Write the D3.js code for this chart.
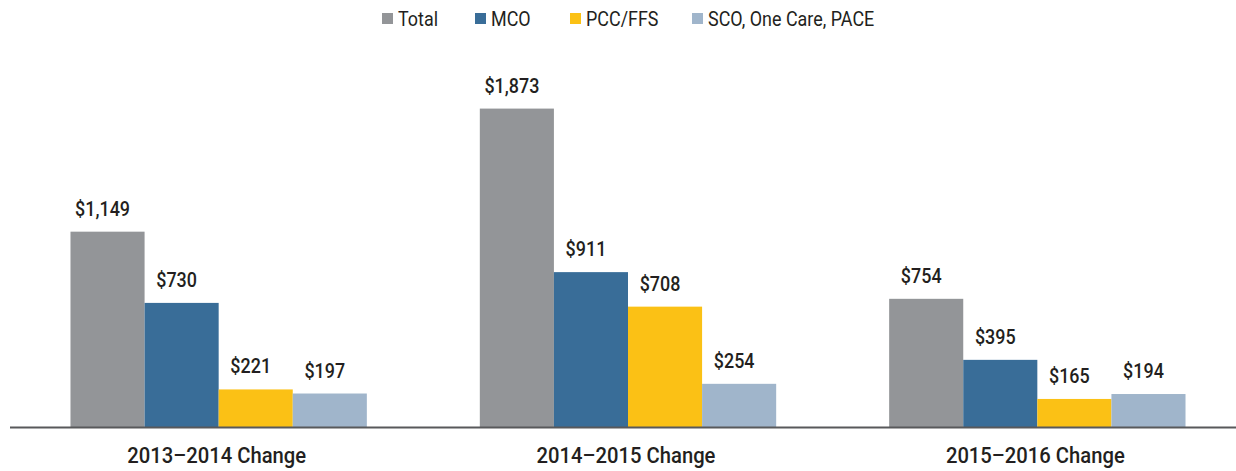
<!DOCTYPE html>
<meta charset="utf-8">
<style>
  body { margin: 0; background: #fff; }
  text { font-family: Roboto, "DejaVu Sans Condensed", Arial, sans-serif; fill: #231f20; }
  .val { font-size: 19.5px; font-weight: 500; }
  .cat { font-size: 22px; font-weight: 500; }
  .leg { font-size: 19.5px; }
</style>
<body>
<script src="https://d3js.org/d3.v7.min.js"></script>
<script>
var categories = ["2013\u20132014 Change", "2014\u20132015 Change", "2015\u20132016 Change"];
var seriesNames = ["Total", "MCO", "PCC/FFS", "SCO, One Care, PACE"];
var totalVals = [1149, 1873, 754];
var mcoVals = [730, 911, 395];
var pccVals = [221, 708, 165];
var scoVals = [197, 254, 194];
var colors = ["#939598", "#396d98", "#fbc115", "#a0b5cb"];

var series = [totalVals, mcoVals, pccVals, scoVals];
var width = 1236, height = 471;
var squeeze = 0.92; // fake a condensed face

var svg = d3.select("body").append("svg")
  .attr("width", width)
  .attr("height", height);

var x0 = d3.scaleBand()
  .domain(categories)
  .range([14, 1242])
  .paddingInner(0.276)
  .paddingOuter(0.138);

var x1 = d3.scaleBand()
  .domain(seriesNames)
  .range([0, x0.bandwidth()]);

var y = d3.scaleLinear()
  .domain([0, 2000])
  .range([427, 87]);

var rows = [];
categories.forEach(function(c, i) {
  seriesNames.forEach(function(s, j) {
    rows.push({cat: c, name: s, value: series[j][i], color: colors[j]});
  });
});

function place(px, py) {
  return "translate(" + px + "," + py + ") scale(" + squeeze + ",1)";
}

// bars
svg.selectAll(".bar")
  .data(rows)
  .enter().append("rect")
  .attr("class", "bar")
  .attr("x", function(d) { return x0(d.cat) + x1(d.name); })
  .attr("width", x1.bandwidth())
  .attr("y", function(d) { return y(d.value); })
  .attr("height", function(d) { return y(0) - y(d.value); })
  .attr("fill", function(d) { return d.color; });

// value labels
var fmt = d3.format(",");
svg.selectAll(".val")
  .data(rows)
  .enter().append("text")
  .attr("class", "val")
  .attr("text-anchor", "middle")
  .attr("transform", function(d) {
    return place(x0(d.cat) + x1(d.name) + x1.bandwidth() / 2 - 5, y(d.value) - 16);
  })
  .text(function(d) { return "$" + fmt(d.value); });

// baseline
svg.append("line")
  .attr("x1", 10)
  .attr("x2", width)
  .attr("y1", y(0) + 0.5)
  .attr("y2", y(0) + 0.5)
  .attr("stroke", "#58595b")
  .attr("stroke-width", 2);

// category labels
svg.selectAll(".cat")
  .data(categories)
  .enter().append("text")
  .attr("class", "cat")
  .attr("text-anchor", "middle")
  .attr("transform", function(d) { return place(x0(d) + x0.bandwidth() / 2 - 2, 463); })
  .text(function(d) { return d; });

// legend
var legX = [382, 475, 570, 692];
var leg = svg.selectAll(".legitem")
  .data(seriesNames)
  .enter().append("g")
  .attr("transform", function(d, i) { return "translate(" + legX[i] + ",13)"; });

leg.append("rect")
  .attr("width", 11)
  .attr("height", 11)
  .attr("fill", function(d, i) { return colors[i]; });

leg.append("text")
  .attr("class", "leg")
  .attr("transform", place(16, 13))
  .text(function(d) { return d; });
</script>
</body>
